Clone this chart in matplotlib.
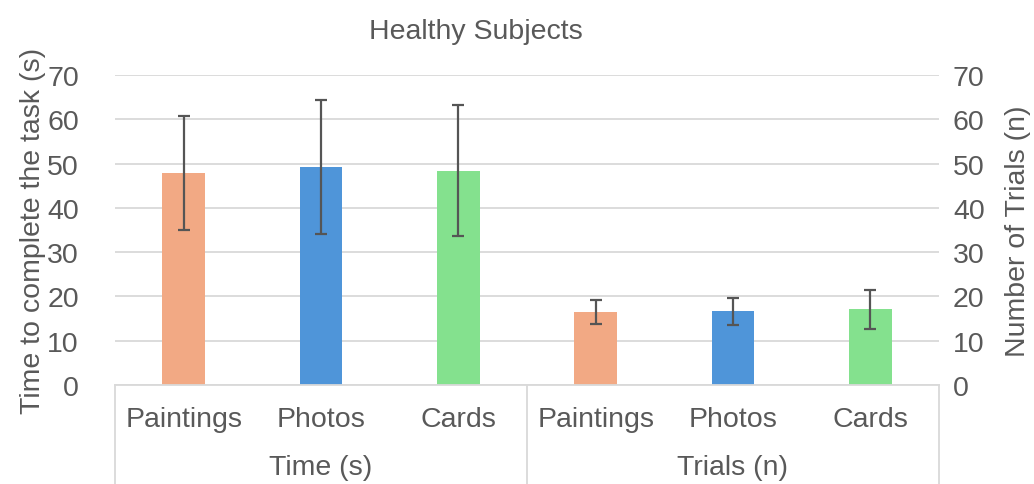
import numpy as np
import matplotlib.pyplot as plt
from matplotlib.transforms import blended_transform_factory

plt.rcParams["font.family"] = ["Liberation Sans", "DejaVu Sans"]

categories = ["Paintings", "Photos", "Cards"]
groups = ["Time (s)", "Trials (n)"]
time_mean = [47.9, 49.2, 48.4]
time_sd = [12.8, 15.2, 14.8]
trials_mean = [16.4, 16.6, 17.1]
trials_sd = [2.7, 3.1, 4.4]

colors = ["#F2A984", "#4F95D9", "#84E18E"]
txt = "#595959"
grid = "#D9D9D9"
fs = 20.5

fig = plt.figure(figsize=(10.34, 4.85), dpi=100)
ax = fig.add_axes([115 / 1034, 1 - 386 / 485, 824 / 1034, 310 / 485])

means = time_mean + trials_mean
sds = time_sd + trials_sd
x = np.arange(len(means))
ax.bar(x, means, width=0.31, color=colors * 2, zorder=2)
ax.errorbar(x, means, yerr=sds, fmt="none", ecolor="#555555",
            elinewidth=1.6, capsize=4.5, capthick=1.6, zorder=3)

ax.set_xlim(-0.5, len(means) - 0.5)
ax.set_ylim(0, 70)
ax.set_yticks(range(0, 71, 10))
ax.yaxis.grid(True, color=grid, lw=1.3, zorder=0)
ax.set_axisbelow(True)
ax.tick_params(axis="y", length=0, pad=26, labelsize=fs, labelcolor=txt)
ax.set_xticks([])
for s in ["top", "left", "right"]:
    ax.spines[s].set_visible(False)
ax.spines["bottom"].set_color(grid)
ax.spines["bottom"].set_linewidth(1.3)
ax.set_ylabel("Time to complete the task (s)", fontsize=fs, color=txt, labelpad=1)

ax2 = ax.twinx()
ax2.set_ylim(0, 70)
ax2.set_yticks(range(0, 71, 10))
ax2.tick_params(axis="y", length=0, pad=10, labelsize=fs, labelcolor=txt)
for s in ax2.spines.values():
    s.set_visible(False)
ax2.set_ylabel("Number of Trials (n)", fontsize=fs, color=txt, labelpad=15)

# two-level category axis
tr = blended_transform_factory(ax.transData, ax.transAxes)
for i, lab in enumerate(categories * 2):
    ax.text(i, -0.11, lab, transform=tr, ha="center", va="center",
            fontsize=fs, color=txt)
for g, lab in enumerate(groups):
    ax.text(g * 3 + 1, -0.265, lab, transform=tr, ha="center", va="center",
            fontsize=fs, color=txt)
for xs in [-0.5, 2.5, 5.5]:
    ax.plot([xs, xs], [0, -0.33], transform=tr, color=grid, lw=1.3, clip_on=False)

fig.text(476 / 1034, 1 - 32 / 485, "Healthy Subjects", ha="center", va="center",
         fontsize=fs, color=txt)

fig.savefig("out.png", dpi=100)
